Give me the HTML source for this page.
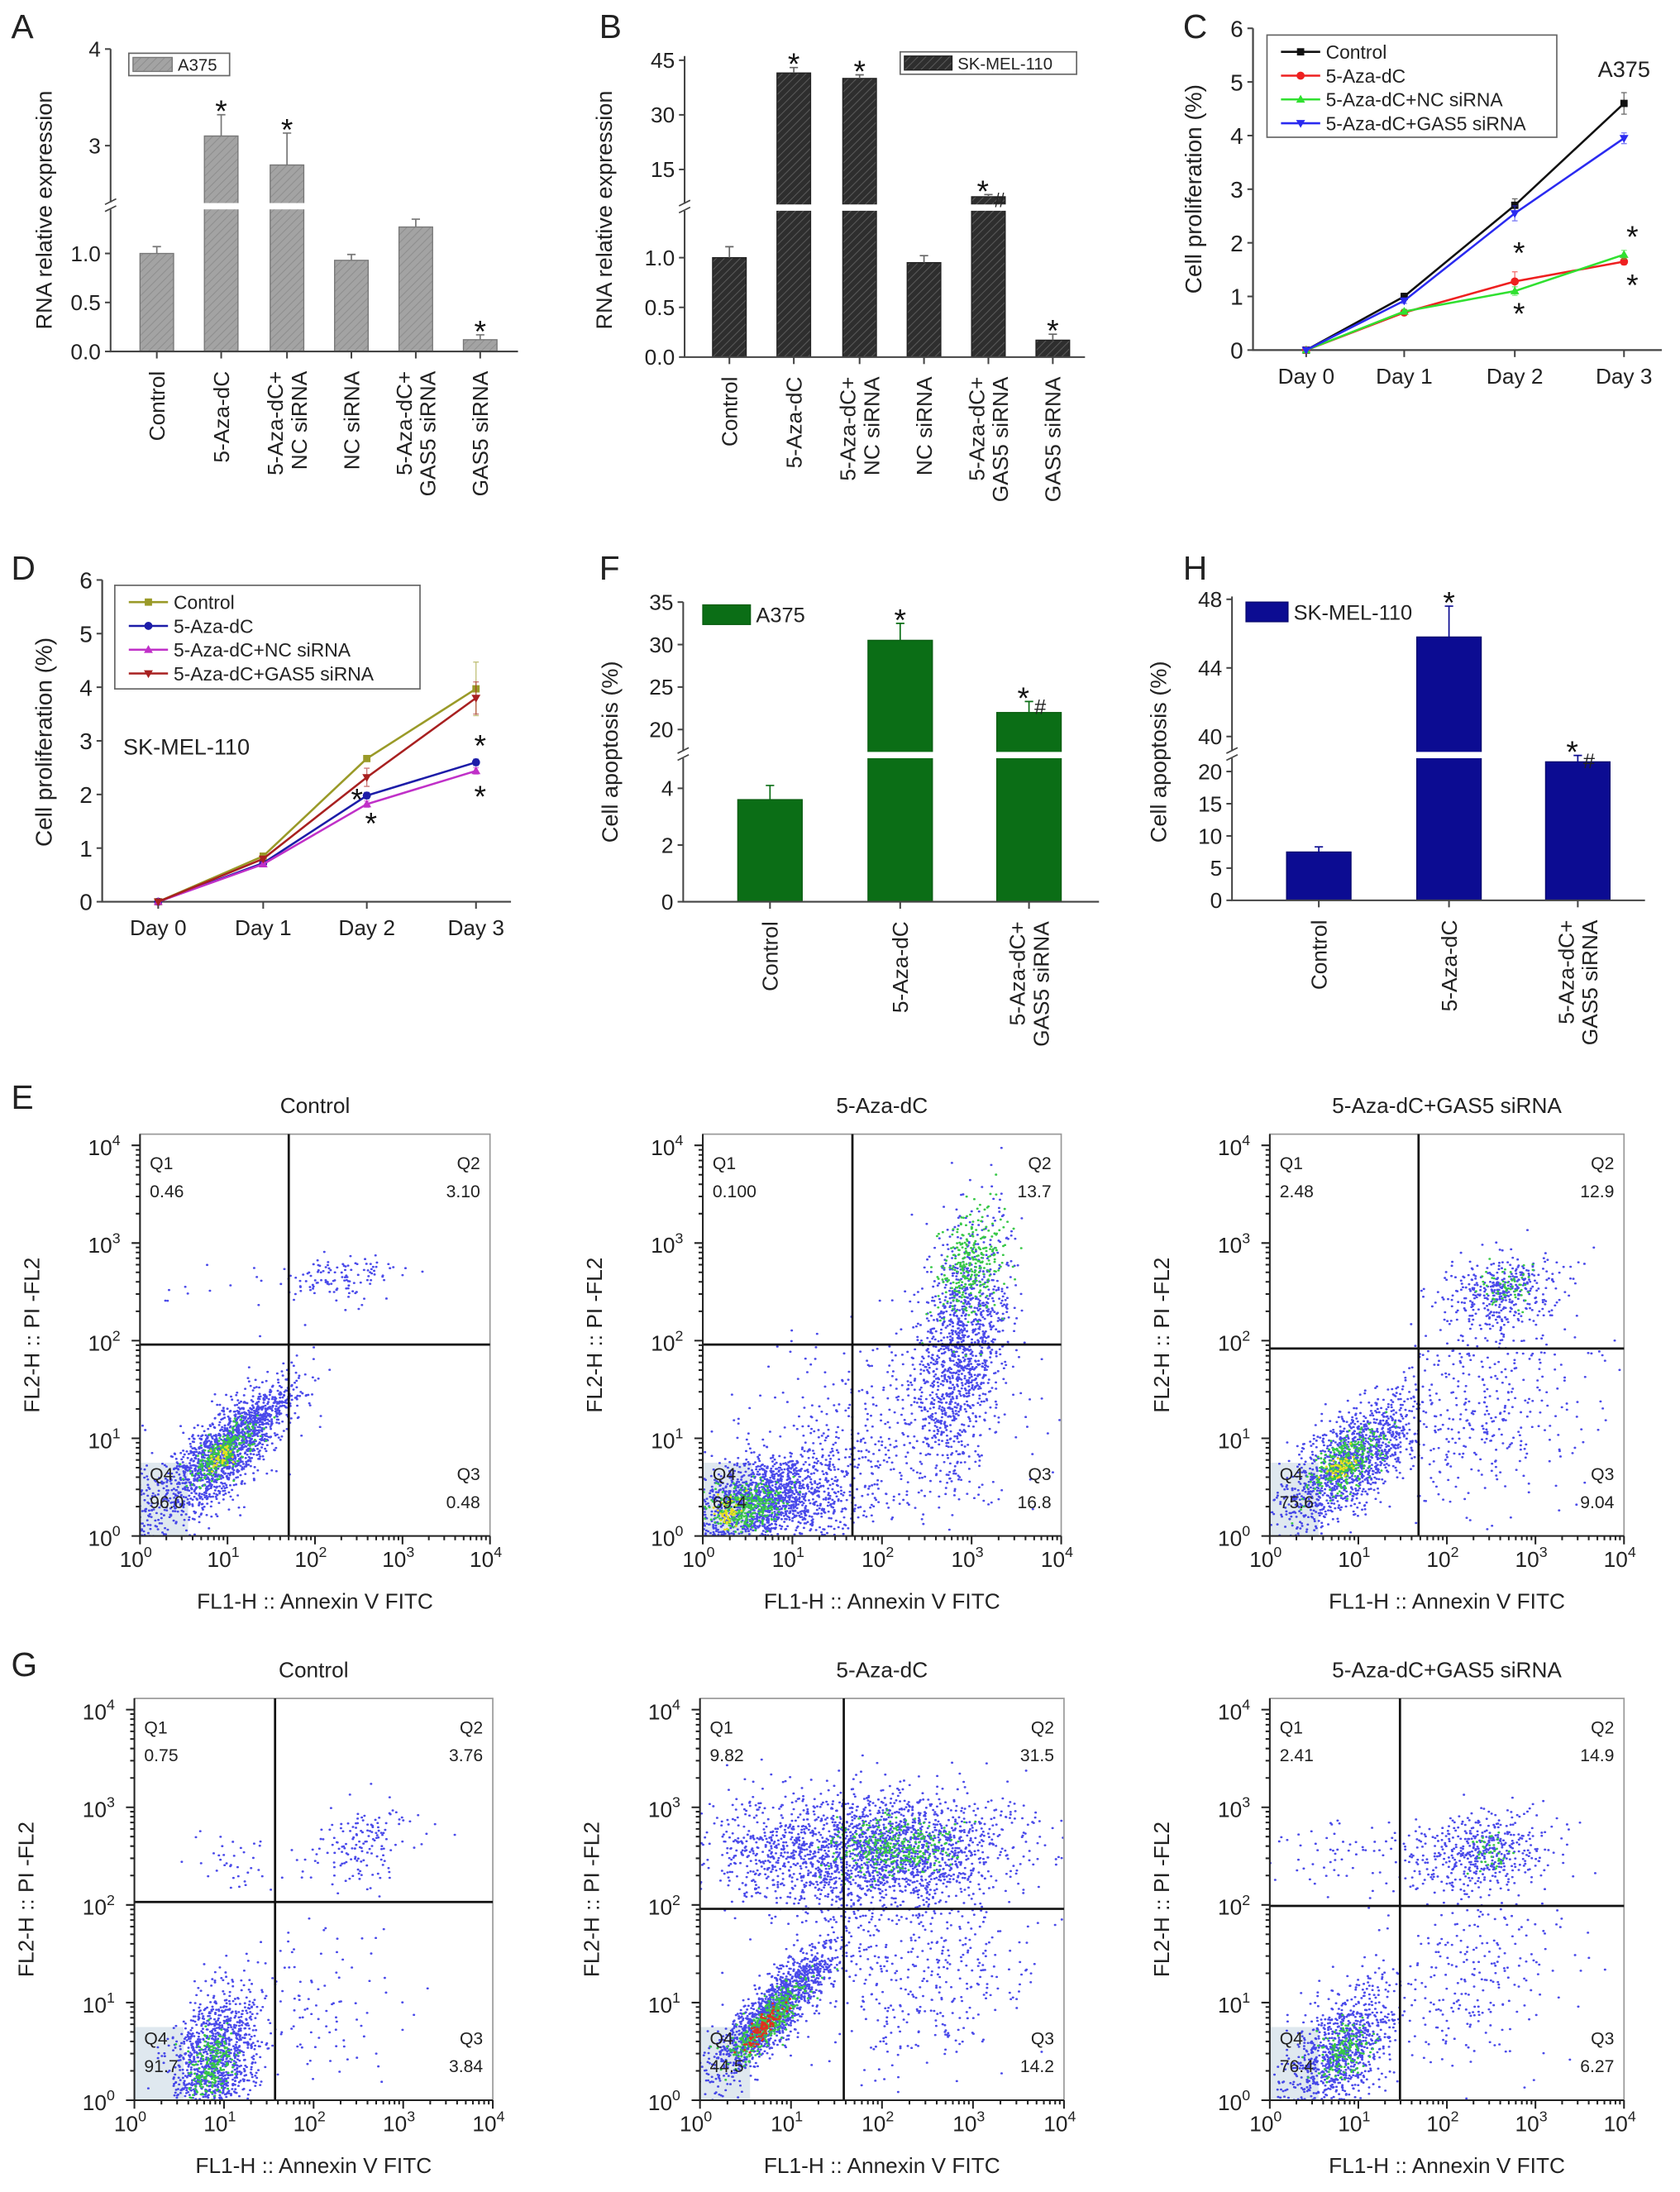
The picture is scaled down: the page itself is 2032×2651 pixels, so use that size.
<!DOCTYPE html>
<html><head><meta charset="utf-8">
<style>
html,body{margin:0;padding:0;background:#fff;}
svg{display:block;font-family:"Liberation Sans",Arial,sans-serif;}
</style></head>
<body>
<svg id="fig" width="2032" height="2651" viewBox="0 0 1200 1565.5" xmlns="http://www.w3.org/2000/svg">
<defs>
<pattern id="hatchA" patternUnits="userSpaceOnUse" width="4" height="4" patternTransform="rotate(45)"><rect width="4" height="4" fill="#a3a3a3"/><line x1="0" y1="0" x2="0" y2="4" stroke="#8d8d8d" stroke-width="1.2"/></pattern>
<pattern id="hatchB" patternUnits="userSpaceOnUse" width="4" height="4" patternTransform="rotate(45)"><rect width="4" height="4" fill="#2e2e2e"/><line x1="0" y1="0" x2="0" y2="4" stroke="#5a5a5a" stroke-width="1.2"/></pattern>
</defs>
</svg>
<script>
// ---------- DATA ----------
const catsAB = ["Control","5-Aza-dC",["5-Aza-dC+","NC siRNA"],"NC siRNA",["5-Aza-dC+","GAS5 siRNA"],"GAS5 siRNA"];
const aVals = [1.0, 3.1, 2.8, 0.93, 1.27, 0.12];
const aErr  = [0.07, 0.22, 0.33, 0.06, 0.08, 0.05];
const bVals = [1.0, 41.5, 40.0, 0.95, 7.5, 0.17];
const bErr  = [0.11, 1.5, 1.0, 0.07, 0.6, 0.06];
const catsFH = ["Control","5-Aza-dC",["5-Aza-dC+","GAS5 siRNA"]];
const fVals = [3.6, 30.5, 22.0];
const fErr  = [0.5, 2.0, 1.3];
const hVals = [7.5, 45.8, 21.5];
const hErr  = [0.8, 1.8, 1.0];
const days = ["Day 0","Day 1","Day 2","Day 3"];
const seriesNames = ["Control","5-Aza-dC","5-Aza-dC+NC siRNA","5-Aza-dC+GAS5 siRNA"];
const cControl = [0, 1.0, 2.7, 4.6];
const cAza     = [0, 0.7, 1.28, 1.65];
const cNC      = [0, 0.72, 1.1, 1.78];
const cGAS5    = [0, 0.92, 2.55, 3.95];
const cErrs    = [[0,0.06,0.12,0.2],[0,0.04,0.18,0.06],[0,0.04,0.08,0.08],[0,0.05,0.14,0.1]];
const dControl = [0, 0.85, 2.67, 3.97];
const dAza     = [0, 0.72, 1.98, 2.6];
const dNC      = [0, 0.7, 1.82, 2.44];
const dGAS5    = [0, 0.8, 2.32, 3.8];
const dErrs    = [[0,0.04,0.05,0.5],[0,0.03,0.06,0.06],[0,0.03,0.06,0.06],[0,0.04,0.17,0.3]];
const flowTitles = ["Control","5-Aza-dC","5-Aza-dC+GAS5 siRNA"];
const eQuad = [["0.46","3.10","0.48","96.0"],["0.100","13.7","16.8","69.4"],["2.48","12.9","9.04","75.6"]];
const gQuad = [["0.75","3.76","3.84","91.7"],["9.82","31.5","14.2","44.5"],["2.41","14.9","6.27","76.4"]];
const eGates = [[1.7,1.96],[1.67,1.96],[1.68,1.92]];
const gGates = [[1.57,2.03],[1.58,1.96],[1.47,1.99]];
const eClusters = [
 [[0.9,0.8,0.4,0.35,0.75,1400,0],[1.3,1.2,0.25,0.2,0.8,300,0],[0.95,0.85,0.18,0.15,0.7,260,1],[0.9,0.8,0.08,0.07,0.5,40,2],[2.3,2.65,0.3,0.12,0.3,110,0],[1.2,2.6,0.8,0.2,0,25,0],[0.05,0.2,0.05,0.3,0,60,0]],
 [[0.7,0.35,0.45,0.25,0.3,1600,0],[0.5,0.3,0.2,0.12,0.3,300,1],[0.3,0.25,0.08,0.08,0,50,2],[2.9,2.0,0.25,0.6,0.3,1200,0],[3.0,2.8,0.18,0.3,0.3,300,1],[2.0,1.0,0.8,0.6,0.2,500,0]],
 [[0.9,0.75,0.4,0.35,0.7,1300,0],[0.85,0.75,0.2,0.17,0.6,300,1],[0.8,0.7,0.08,0.07,0.5,50,2],[2.6,2.5,0.35,0.2,0.2,400,0],[2.7,2.55,0.15,0.1,0,60,1],[2.5,1.3,0.5,0.5,0.2,350,0]]
];
const gClusters = [
 [[0.9,0.4,0.25,0.35,0.3,1200,0],[0.85,0.35,0.12,0.18,0.3,200,1],[2.6,2.6,0.35,0.2,0.2,150,0],[1.2,2.4,0.3,0.15,0,40,0],[2.0,1.0,0.5,0.4,0,100,0]],
 [[2.0,2.55,0.7,0.3,0.1,2000,0],[2.1,2.6,0.35,0.15,0,300,1],[0.8,0.9,0.35,0.35,0.85,1500,0],[0.75,0.8,0.2,0.2,0.85,400,1],[0.7,0.75,0.1,0.1,0.8,120,3],[2.5,1.3,0.6,0.5,0.2,400,0],[0.8,2.6,0.5,0.3,0,300,0]],
 [[0.8,0.5,0.3,0.35,0.5,1000,0],[0.85,0.5,0.15,0.15,0.4,150,1],[2.4,2.55,0.4,0.2,0.2,450,0],[2.5,2.55,0.15,0.1,0,40,1],[2.3,1.3,0.5,0.5,0.2,250,0],[1.0,2.5,0.5,0.2,0,80,0]]
];
const dotColors = ["#2a2ae6","#38c848","#e8e020","#e03020"];

// ---------- HELPERS ----------
const NS='http://www.w3.org/2000/svg';
const svg=document.getElementById('fig');
function mk(t,a,p){const e=document.createElementNS(NS,t);for(const k in a)e.setAttribute(k,a[k]);p.appendChild(e);return e;}
function tx(s,x,y,a,p){const e=mk('text',Object.assign({x:x,y:y,fill:'#222'},a||{}),p);e.textContent=s;return e;}

[["A",8,27],["B",428,27],["C",845,27],["D",8,414],["F",428,414],["H",845,414],["E",8,792],["G",8,1197]].forEach(function(p){
  const t=tx(p[0],p[1],p[2],{'font-size':24},svg);
  
  
});

// ---------- BAR CHARTS ----------
function barChart(c){
  const g=mk('g',{},svg);
  
  
  function y(v){const s=v<=c.breakVal?c.lower:c.upper;return s.y0+(v-s.v0)*(s.y1-s.y0)/(s.v1-s.v0);}
  c.vals.forEach(function(v,i){
    const x=c.xs[i], top=y(v), base=y(0);
    const r=mk('rect',{x:x-c.bw/2,y:top,width:c.bw,height:base-top,fill:c.fill,stroke:c.stroke,'stroke-width':0.8},g);
    
    
    const e=y(v+c.errs[i]);
    const eb=mk('path',{d:'M'+x+' '+top+'V'+e+'M'+(x-3)+' '+e+'H'+(x+3),stroke:c.errColor,'stroke-width':1,fill:'none'},g);
    
    
    if(v>c.breakVal){mk('rect',{x:x-c.bw/2-1,y:c.breakY-2,width:c.bw+2,height:4.5,fill:'#fff'},g);}
  });
  const ax=mk('path',{d:'M'+c.axisX+' '+c.topY+'V'+y(0)+'H'+c.axisRight,stroke:'#444','stroke-width':1.2,fill:'none'},g);
  
  
  mk('rect',{x:c.axisX-3,y:c.breakY-2.5,width:6,height:5,fill:'#fff'},g);
  mk('path',{d:'M'+(c.axisX-4)+' '+(c.breakY-1)+'L'+(c.axisX+4)+' '+(c.breakY-5)+'M'+(c.axisX-4)+' '+(c.breakY+4)+'L'+(c.axisX+4)+' '+(c.breakY)},g).setAttribute('stroke','#444');
  c.ticks.forEach(function(t){
    const ty=y(t);
    mk('line',{x1:c.axisX-4,x2:c.axisX,y1:ty,y2:ty,stroke:'#444','stroke-width':1.2},g);
    const lb=tx(c.fmt(t),c.axisX-7,ty+5.5,{'font-size':15.5,'text-anchor':'end'},g);
    
    
  });
  c.xs.forEach(function(x,i){
    mk('line',{x1:x,x2:x,y1:y(0),y2:y(0)+5,stroke:'#444','stroke-width':1.2},g);
    const cat=c.cats[i];
    const lines=Array.isArray(cat)?cat:[cat];
    lines.forEach(function(s,k){
      const off=lines.length===1?5.5:(k===0?-3:14);
      const lx=x+off, ly=y(0)+14;
      const t=tx(s,lx,ly,{'font-size':15.5,'text-anchor':'end',transform:'rotate(-90 '+lx+' '+ly+')'},g);
      
      
    });
  });
  const yt=tx(c.yTitle,c.yTitleX,c.yTitleY,{'font-size':16,'text-anchor':'middle',transform:'rotate(-90 '+c.yTitleX+' '+c.yTitleY+')'},g);
  
  
  c.stars.forEach(function(s){
    const i=s[0];const sy=y(c.vals[i]+c.errs[i])-7;
    const st=tx('*',c.xs[i]+(s[1]?-4:0),sy+12,{'font-size':22,'text-anchor':'middle','fill':'#111'},g);
    
    
    if(s[1]){const h=tx('#',c.xs[i]+8,sy+16,{'font-size':15,'text-anchor':'middle'},g);
      
      }
  });
  const L=c.legend;
  const lg=mk('g',{},g);
  
  
  if(L.box)mk('rect',{x:L.x,y:L.y,width:L.w,height:L.h,fill:'#fff',stroke:'#666','stroke-width':1},lg);
  mk('rect',{x:L.x+L.pad,y:L.y+L.pad,width:L.sw,height:L.h-2*L.pad,fill:c.fill,stroke:c.stroke,'stroke-width':0.8},lg);
  tx(L.text,L.x+L.pad+L.sw+4,L.y+L.h-3.5,{'font-size':L.fs},lg);
}
barChart({name:'panel-a-chart',xs:[112,158,205,251,297,343],bw:24,vals:aVals,errs:aErr,cats:catsAB,
  lower:{v0:0,y0:251,v1:1,y1:181},upper:{v0:3,y0:104,v1:4,y1:35},breakVal:2,breakY:147,topY:35,
  axisX:79,axisRight:370,ticks:[0,0.5,1.0,3,4],fmt:function(t){return t<2?t.toFixed(1):String(t);},
  fill:'url(#hatchA)',stroke:'#777',errColor:'#777',yTitle:'RNA relative expression',yTitleX:37,yTitleY:150,
  stars:[[1],[2],[5]],legend:{box:true,x:92,y:38,w:72,h:16,pad:3,sw:28,text:'A375',fs:12}});
barChart({name:'panel-b-chart',xs:[521,567,614,660,706,752],bw:24,vals:bVals,errs:bErr,cats:catsAB,
  lower:{v0:0,y0:255,v1:1,y1:184},upper:{v0:15,y0:121,v1:45,y1:43},breakVal:2,breakY:148,topY:40,
  axisX:489,axisRight:775,ticks:[0,0.5,1.0,15,30,45],fmt:function(t){return t<2?t.toFixed(1):String(t);},
  fill:'url(#hatchB)',stroke:'#222',errColor:'#666',yTitle:'RNA relative expression',yTitleX:437,yTitleY:150,
  stars:[[1],[2],[4,true],[5]],legend:{box:true,x:643,y:37,w:126,h:16,pad:3,sw:34,text:'SK-MEL-110',fs:12}});
barChart({name:'panel-f-chart',xs:[550,643,735],bw:46,vals:fVals,errs:fErr,cats:catsFH,
  lower:{v0:0,y0:644,v1:4,y1:563},upper:{v0:20,y0:521,v1:35,y1:430},breakVal:10,breakY:539,topY:430,
  axisX:488,axisRight:785,ticks:[0,2,4,20,25,30,35],fmt:String,
  fill:'#0b6e16',stroke:'#0b5e12',errColor:'#0b6e16',yTitle:'Cell apoptosis (%)',yTitleX:441,yTitleY:537,
  stars:[[1],[2,true]],legend:{box:false,x:500,y:430,w:90,h:18,pad:2,sw:34,text:'A375',fs:15}});
barChart({name:'panel-h-chart',xs:[942,1035,1127],bw:46,vals:hVals,errs:hErr,cats:catsFH,
  lower:{v0:0,y0:643,v1:20,y1:551},upper:{v0:40,y0:526,v1:48,y1:428},breakVal:30,breakY:539,topY:426,
  axisX:880,axisRight:1175,ticks:[0,5,10,15,20,40,44,48],fmt:String,
  fill:'#0c0c92',stroke:'#08086e',errColor:'#0c0c92',yTitle:'Cell apoptosis (%)',yTitleX:833,yTitleY:537,
  stars:[[1],[2,true]],legend:{box:false,x:888,y:428,w:120,h:18,pad:2,sw:30,text:'SK-MEL-110',fs:15}});

// ---------- LINE CHARTS ----------
function marker(g,type,x,y,col){
  let e;
  if(type===0)e=mk('rect',{x:x-2.6,y:y-2.6,width:5.2,height:5.2,fill:col},g);
  else if(type===1)e=mk('circle',{cx:x,cy:y,r:2.9,fill:col},g);
  else if(type===2)e=mk('path',{d:'M'+x+' '+(y-3.3)+'L'+(x+3.2)+' '+(y+2.3)+'L'+(x-3.2)+' '+(y+2.3)+'Z',fill:col},g);
  else e=mk('path',{d:'M'+x+' '+(y+3.3)+'L'+(x+3.2)+' '+(y-2.3)+'L'+(x-3.2)+' '+(y-2.3)+'Z',fill:col},g);
  return e;
}
function lineChart(c){
  const g=mk('g',{},svg);
  
  
  function y(v){return c.y0-v*c.unit;}
  const ax=mk('path',{d:'M'+c.axisX+' '+y(6)+'V'+y(0)+'H'+c.axisRight,stroke:'#444','stroke-width':1.3,fill:'none'},g);
  
  
  for(let t=0;t<=6;t++){
    mk('line',{x1:c.axisX-4,x2:c.axisX,y1:y(t),y2:y(t),stroke:'#444','stroke-width':1.2},g);
    const lb=tx(String(t),c.axisX-7,y(t)+6,{'font-size':16.5,'text-anchor':'end'},g);
    
    
  }
  days.forEach(function(d,i){
    mk('line',{x1:c.xs[i],x2:c.xs[i],y1:y(0),y2:y(0)+5,stroke:'#444','stroke-width':1.2},g);
    const lb=tx(d,c.xs[i],y(0)+24,{'font-size':15.5,'text-anchor':'middle'},g);
    
    
  });
  c.series.forEach(function(s,k){
    const col=c.colors[k];
    const pts=s.map(function(v,i){return c.xs[i]+','+y(v);}).join(' ');
    const pl=mk('polyline',{points:pts,fill:'none',stroke:col,'stroke-width':1.5},g);
    
    
    s.forEach(function(v,i){
      const er=c.errs[k][i];
      if(er>0)mk('path',{d:'M'+c.xs[i]+' '+y(v-er)+'V'+y(v+er)+'M'+(c.xs[i]-2)+' '+y(v+er)+'h4M'+(c.xs[i]-2)+' '+y(v-er)+'h4',stroke:col,'stroke-width':0.8,opacity:0.6,fill:'none'},g);
      const m=marker(g,k,c.xs[i],y(v),col);
      
      
    });
  });
  const L=c.legend;
  const lg=mk('g',{},g);
  
  
  mk('rect',{x:L.x,y:L.y,width:L.w,height:L.h,fill:'#fff',stroke:'#666','stroke-width':1},lg);
  seriesNames.forEach(function(n,k){
    const ly=L.y+12+k*17;
    mk('line',{x1:L.x+10,x2:L.x+38,y1:ly,y2:ly,stroke:c.colors[k],'stroke-width':1.5},lg);
    marker(lg,k,L.x+24,ly,c.colors[k]);
    const t=tx(n,L.x+42,ly+5,{'font-size':13.5},lg);
    
    
  });
  const yt=tx('Cell proliferation (%)',c.yTitleX,c.yTitleY,{'font-size':16.5,'text-anchor':'middle',transform:'rotate(-90 '+c.yTitleX+' '+c.yTitleY+')'},g);
  
  
  const cl=tx(c.cell[0],c.cell[1],c.cell[2],{'font-size':16,'text-anchor':c.cell[3]},g);
  
  
  c.stars.forEach(function(s){
    const st=tx('*',c.xs[s[0]]+s[2],y(s[1])+9,{'font-size':22,'text-anchor':'middle','fill':'#111'},g);
    
    
  });
}
lineChart({name:'panel-c-chart',xs:[933,1003,1082,1160],axisX:895,axisRight:1187,y0:250,unit:38.3,
  series:[cControl,cAza,cNC,cGAS5],errs:cErrs,colors:['#111','#ee2020','#30e030','#2a2af0'],
  legend:{x:905,y:25,w:207,h:73},yTitleX:858,yTitleY:135,cell:['A375',1160,55,'middle'],
  stars:[[2,1.85,3],[2,0.72,3],[3,2.15,6],[3,1.25,6]]});
lineChart({name:'panel-d-chart',xs:[113,188,262,340],axisX:73,axisRight:365,y0:644,unit:38.3,
  series:[dControl,dAza,dNC,dGAS5],errs:dErrs,colors:['#9a9a28','#1c1ca8','#c030c8','#a82020'],
  legend:{x:82,y:418,w:218,h:74},yTitleX:37,yTitleY:530,cell:['SK-MEL-110',88,539,'start'],
  stars:[[2,1.95,-7],[2,1.5,3],[3,2.95,3],[3,2.0,3]]});

// ---------- FLOW CYTOMETRY ----------
let seed=12345;
function rnd(){seed|=0;seed=seed+0x6D2B79F5|0;let t=Math.imul(seed^seed>>>15,1|seed);t=t+Math.imul(t^t>>>7,61|t)^t;return((t^t>>>14)>>>0)/4294967296;}
function gauss(){let u=0,v=0;while(u===0)u=rnd();v=rnd();return Math.sqrt(-2*Math.log(u))*Math.cos(2*Math.PI*v);}
let clipId=0;
function flowPlot(name,L,R,T,B,title,quad,gate,clusters){
  const g=mk('g',{},svg);
  
  
  const dec=(B-T-8)/4;
  function px(d){return L+d/4*(R-L);}
  function py(d){return B-d*dec;}
  const id='clip'+(clipId++);
  const cp=mk('clipPath',{id:id},g);mk('rect',{x:L,y:T,width:R-L,height:B-T},cp);
  const dots=mk('g',{'clip-path':'url(#'+id+')'},g);
  
  
  mk('rect',{x:px(-0.1),y:py(0.75),width:px(0.55)-px(-0.1),height:py(-0.1)-py(0.75),fill:'#dfe8ef'},dots);
  const paths=['','','',''];
  clusters.forEach(function(c){
    for(let i=0;i<c[5];i++){
      const a=gauss(),b=gauss();
      const xd=c[0]+c[2]*a, yd=c[1]+c[3]*(c[4]*a+Math.sqrt(1-c[4]*c[4])*b);
      paths[c[6]]+='M'+px(xd).toFixed(1)+' '+py(yd).toFixed(1)+'h0.3';
    }
  });
  paths.forEach(function(d,k){if(d){const p=mk('path',{d:d,stroke:dotColors[k],'stroke-width':1.5,'stroke-linecap':'round',fill:'none',opacity:k===0?0.85:1},dots);
    
    }});
  const fr=mk('rect',{x:L,y:T,width:R-L,height:B-T,fill:'none',stroke:'#999','stroke-width':1},g);
  
  
  const gl=mk('path',{d:'M'+px(gate[0])+' '+T+'V'+B+'M'+L+' '+py(gate[1])+'H'+R,stroke:'#111','stroke-width':1.6},g);
  
  
  let tk='';
  for(let d=0;d<=4;d++){
    tk+='M'+L+' '+py(d)+'h-6M'+px(d)+' '+B+'v6';
    if(d<4)for(let m=2;m<10;m++){const o=Math.log10(m);tk+='M'+L+' '+py(d+o).toFixed(1)+'h-3M'+px(d+o).toFixed(1)+' '+B+'v3';}
    const yl=tx('10',L-14,py(d)+7,{'font-size':15.5,'text-anchor':'end'},g);
    const ys=mk('tspan',{dy:-7,'font-size':10.5},yl);ys.textContent=String(d);
    
    
    const xl=tx('10',px(d)-3,B+22,{'font-size':15.5,'text-anchor':'middle'},g);
    const xs=mk('tspan',{dy:-7,'font-size':10.5},xl);xs.textContent=String(d);
    
    
  }
  mk('path',{d:tk+'M'+L+' '+T+'V'+B+'H'+R,stroke:'#222','stroke-width':1.2,fill:'none'},g);
  const tt=tx(title,(L+R)/2,T-15,{'font-size':15.5,'text-anchor':'middle'},g);
  
  
  const xt=tx('FL1-H :: Annexin V FITC',(L+R)/2,B+52,{'font-size':15.5,'text-anchor':'middle'},g);
  
  
  const ytx=L-72, yty=(T+B)/2;
  const yt=tx('FL2-H :: PI -FL2',ytx,yty,{'font-size':15.5,'text-anchor':'middle',transform:'rotate(-90 '+ytx+' '+yty+')'},g);
  
  
  const qs=[['Q1',quad[0],L+7,T+25,'start'],['Q2',quad[1],R-7,T+25,'end'],['Q3',quad[2],R-7,B-40,'end'],['Q4',quad[3],L+7,B-40,'start']];
  qs.forEach(function(q){
    const a=tx(q[0],q[2],q[3],{'font-size':12.5,'text-anchor':q[4]},g);
    
    
    const b=tx(q[1],q[2],q[3]+20,{'font-size':12.5,'text-anchor':q[4]},g);
    
    
  });
}
const eFrames=[[100,350],[502,758],[907,1160]];
const gFrames=[[96,352],[500,760],[907,1160]];
for(let i=0;i<3;i++){
  flowPlot('flow-e-'+(i+1),eFrames[i][0],eFrames[i][1],810,1097,flowTitles[i],eQuad[i],eGates[i],eClusters[i]);
  flowPlot('flow-g-'+(i+1),gFrames[i][0],gFrames[i][1],1213,1500,flowTitles[i],gQuad[i],gGates[i],gClusters[i]);
}
</script>
</body></html>
